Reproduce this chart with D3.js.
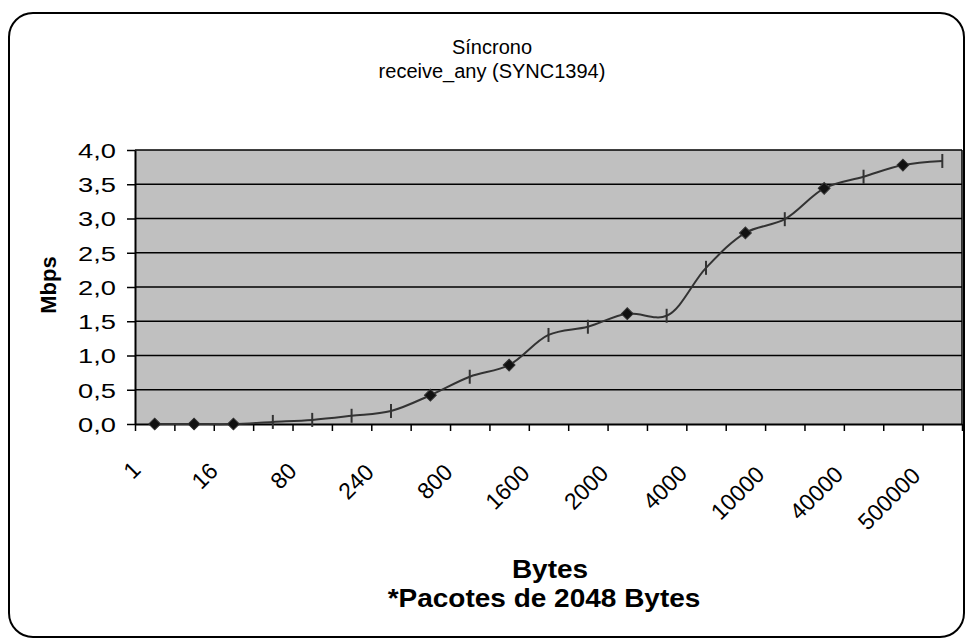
<!DOCTYPE html>
<html lang="pt">
    <head>
        <meta charset="utf-8">
        <style>
            body { margin: 0; background: #fff; }
            text { font-family: Arial, "Liberation Sans", sans-serif; fill: #000; }
            .line { fill: none; stroke: #333; stroke-width: 2px; }
            .grid line { stroke: #000; stroke-width: 1.5px; }
        </style>
        <script src="https://d3js.org/d3.v7.min.js"></script>
        <title>Síncrono receive_any</title>
    </head>
    <body>
        <div id="chart"></div>
        <script>
            // values (Mbps per category)
            var mbps = [0.00, 0.00, 0.00, 0.03, 0.06, 0.12, 0.19, 0.42, 0.69, 0.86, 1.30,
                        1.42, 1.61, 1.58, 2.28, 2.79, 2.99, 3.44, 3.61, 3.78, 3.84];
            // only every second category carries a label
            var tickLabels = ["1", "16", "80", "240", "800", "1600", "2000", "4000", "10000", "40000", "500000"];
            var yTicks = [0, 0.5, 1, 1.5, 2, 2.5, 3, 3.5, 4];
            // points drawn with a diamond marker, the rest get a dash
            var diamondPoints = [0, 1, 2, 7, 9, 12, 15, 17, 19];
            var titleLines = ["Síncrono", "receive_any (SYNC1394)"];
            var xTitleLines = ["Bytes", "*Pacotes de 2048 Bytes"];
            var yTitle = "Mbps";

            var W = 971, H = 644;
            var plot = {left: 135, right: 962, top: 150, bottom: 424};

            var svg = d3.select("#chart")
                .append("svg")
                    .attr("width", W)
                    .attr("height", H);

            // rounded frame
            svg.append("rect")
                .attr("x", 9).attr("y", 13)
                .attr("width", 955).attr("height", 624)
                .attr("rx", 24).attr("ry", 24)
                .attr("fill", "#fff")
                .attr("stroke", "#000")
                .attr("stroke-width", 2);

            var x = d3.scaleBand()
                .domain(d3.range(mbps.length))
                .range([plot.left, plot.right])
                .padding(0);

            var xEdge = d3.scaleLinear()
                .domain([0, mbps.length])
                .range([plot.left, plot.right]);

            var y = d3.scaleLinear()
                .domain([0, 4])
                .range([plot.bottom, plot.top]);

            function cx(i) { return x(i) + x.bandwidth() / 2; }

            // plot area
            svg.append("rect")
                .attr("x", plot.left).attr("y", plot.top)
                .attr("width", plot.right - plot.left)
                .attr("height", plot.bottom - plot.top)
                .attr("fill", "#c0c0c0");

            svg.append("g")
                .attr("class", "grid")
                .selectAll("line")
                .data(yTicks.filter(function(d) { return d > 0; }))
                .join("line")
                    .attr("x1", plot.left).attr("x2", plot.right)
                    .attr("y1", function(d) { return y(d); })
                    .attr("y2", function(d) { return y(d); });

            svg.append("line")
                .attr("x1", plot.right).attr("x2", plot.right)
                .attr("y1", plot.top).attr("y2", plot.bottom)
                .attr("stroke", "#000").attr("stroke-width", 1.5);

            // y axis
            var yAxis = svg.append("g")
                .attr("transform", "translate(" + plot.left + ",0)")
                .call(d3.axisLeft(y)
                    .tickValues(yTicks)
                    .tickSize(8)
                    .tickSizeOuter(0)
                    .tickFormat(function(d) { return d.toFixed(1).replace(".", ","); }));
            yAxis.select(".domain").attr("stroke", "#000").attr("stroke-width", 2);
            yAxis.selectAll(".tick line").attr("stroke", "#000").attr("stroke-width", 1.5);
            yAxis.selectAll(".tick text")
                .attr("x", null).attr("dy", null)
                .attr("font-size", 21)
                .attr("text-anchor", "end")
                .attr("dominant-baseline", "central")
                .attr("transform", "translate(-19,0) scale(1.3,1)");

            // x axis ticks on category edges
            var xAxis = svg.append("g")
                .attr("transform", "translate(0," + plot.bottom + ")")
                .call(d3.axisBottom(xEdge)
                    .tickValues(d3.range(mbps.length + 1))
                    .tickSize(7)
                    .tickSizeOuter(0)
                    .tickFormat(""));
            xAxis.select(".domain").attr("stroke", "#000").attr("stroke-width", 2);
            xAxis.selectAll(".tick line").attr("stroke", "#000").attr("stroke-width", 1.5);

            // rotated category labels, every second category
            svg.append("g")
                .selectAll("text")
                .data(tickLabels)
                .join("text")
                    .attr("font-size", 23)
                    .attr("text-anchor", "end")
                    .attr("transform", function(d, i) {
                        var ax = cx(i * 2) - 11 - 1.6 * d.length;
                        var ay = 470 + 1.2 * d.length;
                        return "translate(" + ax + "," + ay + ") rotate(-45)";
                    })
                    .text(function(d) { return d; });

            // smoothed line
            var valueline = d3.line()
                .x(function(d, i) { return cx(i); })
                .y(function(d) { return y(d); })
                .curve(d3.curveCatmullRom.alpha(0.5));

            svg.append("path")
                .datum(mbps)
                .attr("class", "line")
                .attr("d", valueline);

            // markers
            var pts = mbps.map(function(v, i) { return {i: i, v: v}; });

            svg.append("g")
                .selectAll("line")
                .data(pts.filter(function(p) { return diamondPoints.indexOf(p.i) < 0; }))
                .join("line")
                    .attr("x1", function(p) { return cx(p.i); })
                    .attr("x2", function(p) { return cx(p.i); })
                    .attr("y1", function(p) { return y(p.v) - 7; })
                    .attr("y2", function(p) { return y(p.v) + 7; })
                    .attr("stroke", "#333")
                    .attr("stroke-width", 2);

            svg.append("g")
                .selectAll("path")
                .data(pts.filter(function(p) { return diamondPoints.indexOf(p.i) >= 0; }))
                .join("path")
                    .attr("d", d3.symbol(d3.symbolSquare, 70))
                    .attr("transform", function(p) {
                        return "translate(" + cx(p.i) + "," + y(p.v) + ") rotate(45)";
                    })
                    .attr("fill", "#111")
                    .attr("stroke", "#333")
                    .attr("stroke-width", 1);

            // titles
            svg.append("g")
                .selectAll("text")
                .data(titleLines)
                .join("text")
                    .attr("x", 492)
                    .attr("y", function(d, i) { return 54 + i * 24; })
                    .attr("font-size", 20)
                    .attr("text-anchor", "middle")
                    .text(function(d) { return d; });

            svg.append("g")
                .selectAll("text")
                .data(xTitleLines)
                .join("text")
                    .attr("font-size", 25)
                    .attr("font-weight", "bold")
                    .attr("text-anchor", "middle")
                    .attr("transform", function(d, i) {
                        return "translate(" + (i === 0 ? 550 : 544) + "," + (578 + i * 29) + ") scale(1.12,1)";
                    })
                    .text(function(d) { return d; });

            svg.append("text")
                .attr("transform", "translate(56,285) rotate(-90)")
                .attr("font-size", 22)
                .attr("font-weight", "bold")
                .attr("text-anchor", "middle")
                .text(yTitle);
        </script>
    </body>
</html>
